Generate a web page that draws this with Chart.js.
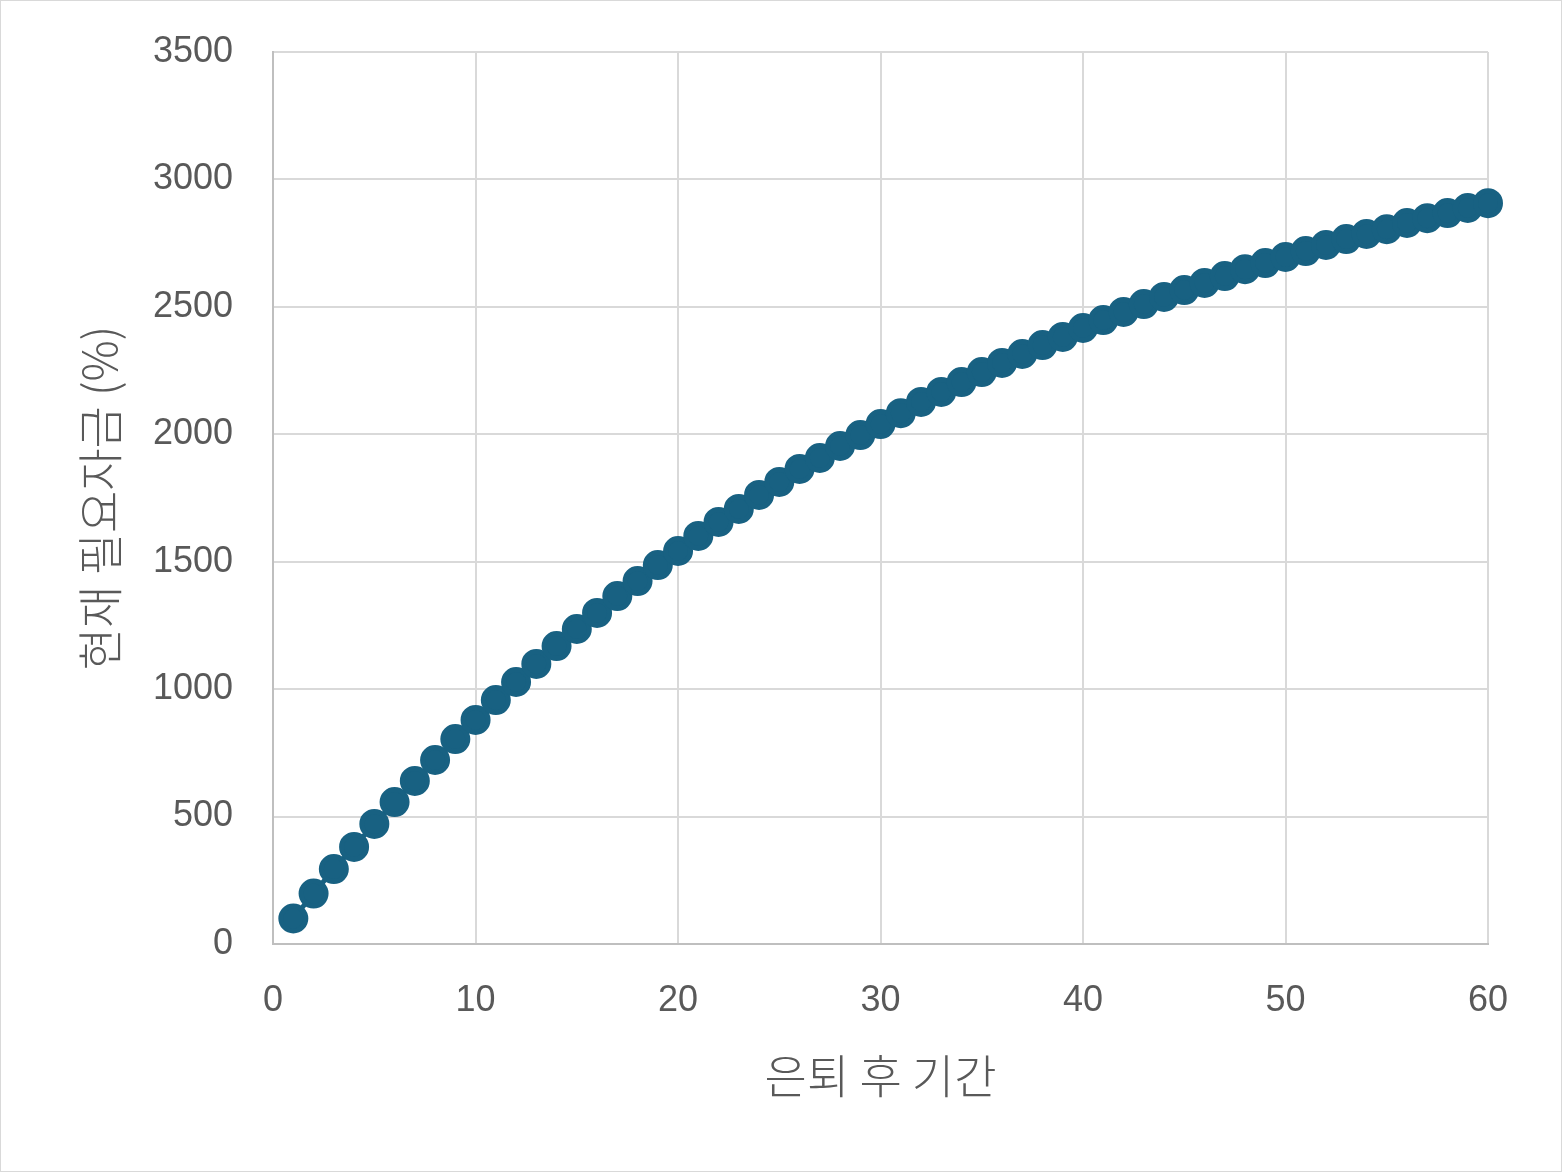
<!DOCTYPE html>
<html>
<head>
<meta charset="utf-8">
<script src="https://cdn.jsdelivr.net/npm/chart.js@4"></script>
<style>
  body { margin: 0; background: #fff; }
  #wrap { width: 1560px; height: 1170px; border: 1px solid #d9d9d9; }
</style>
</head>
<body>
<div id="wrap"><canvas id="fundChart" width="1560" height="1170"></canvas></div>
<script>
// 은퇴 후 기간 (years) and required funds in today's value (%)
const years = [];
for (let i = 1; i <= 60; i++) years.push(i);
const needed = [
  100, 198, 294, 381, 471, 557, 640, 722, 804, 879,
  957, 1028, 1099, 1169, 1236, 1299, 1365, 1424, 1487, 1542,
  1601, 1656, 1707, 1762, 1813, 1864, 1907, 1954, 1997, 2040,
  2083, 2127, 2166, 2205, 2244, 2280, 2315, 2350, 2382, 2417,
  2448, 2480, 2511, 2539, 2566, 2594, 2621, 2648, 2672, 2696,
  2719, 2743, 2766, 2786, 2805, 2829, 2848, 2868, 2888, 2907
];
const xTitle = '은퇴 후 기간';
const yTitle = '현재 필요자금 (%)';

const krFont = "'Noto Sans CJK KR', 'Noto Sans', sans-serif";
const numFont = "'Liberation Sans', Arial, sans-serif";
const gray = '#595959';

new Chart(fundChart, {
  type: 'scatter',
  data: {
    datasets: [{
      data: years.map((x, i) => ({ x: x, y: needed[i] })),
      showLine: true,
      clip: false,
      borderColor: '#186182',
      backgroundColor: '#186182',
      borderWidth: 5,
      pointRadius: 12.5,
      pointHoverRadius: 12.5
    }]
  },
  options: {
    responsive: false,
    devicePixelRatio: 1,
    animation: false,
    layout: { padding: { left: 87, right: 73, top: 51, bottom: 75 } },
    plugins: { legend: { display: false }, tooltip: { enabled: false } },
    scales: {
      x: {
        type: 'linear',
        min: 0, max: 60,
        ticks: { stepSize: 10, color: gray, padding: 35, font: { family: numFont, size: 36 }, callback: v => String(v) },
        grid: { color: '#d9d9d9', lineWidth: 2, drawTicks: false },
        border: { color: '#bfbfbf', width: 2 },
        title: { display: true, text: xTitle, color: gray, padding: { top: 0, bottom: 2 },
                 font: { family: krFont, size: 46, weight: 300, lineHeight: 0.8 } }
      },
      y: {
        min: 0, max: 3500,
        ticks: { stepSize: 500, color: gray, padding: 40, font: { family: numFont, size: 36, lineHeight: 0.5 }, callback: v => String(v) },
        grid: { color: '#d9d9d9', lineWidth: 2, drawTicks: false },
        border: { color: '#bfbfbf', width: 2 },
        title: { display: true, text: yTitle, color: gray, padding: { top: 0, bottom: 2 },
                 font: { family: krFont, size: 46, weight: 300, lineHeight: 0.5 } }
      }
    }
  }
});
</script>
</body>
</html>
